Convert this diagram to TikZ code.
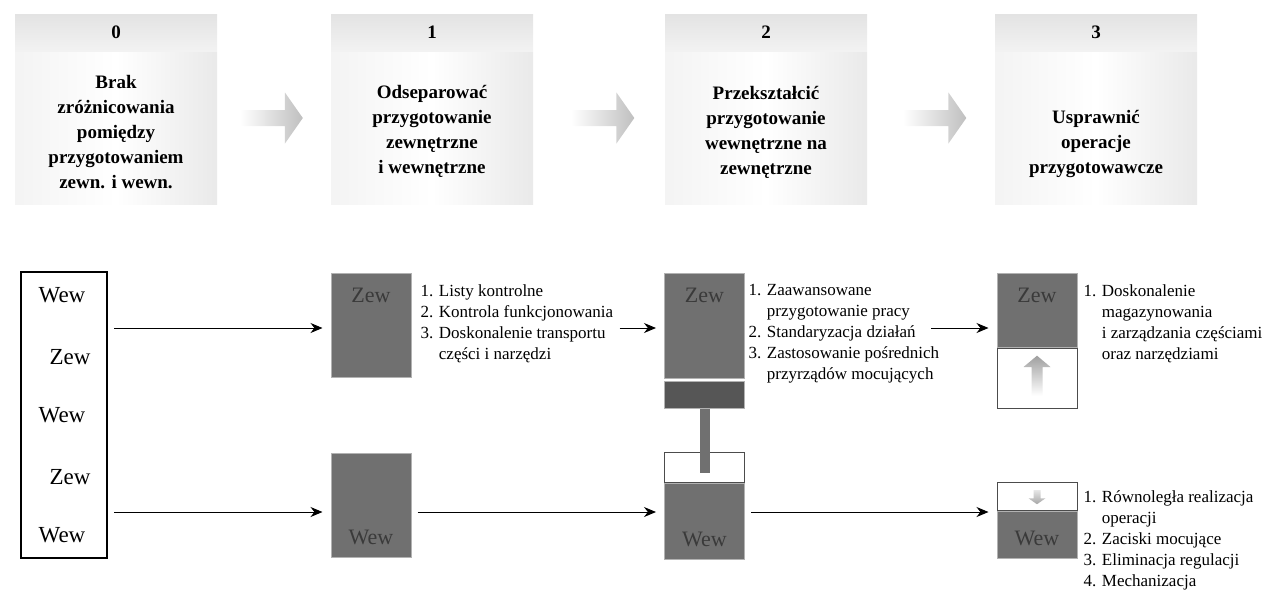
\documentclass[tikz,border=0pt]{standalone}
\usepackage{fontspec}
\setmainfont{Liberation Serif}
\usepackage {tikz}
\usetikzlibrary{shapes,arrows.meta, positioning}

\definecolor{boxgray}{RGB}{112,112,112}
\definecolor{bandgray}{RGB}{86,86,86}
\definecolor{lblgray}{RGB}{58,58,58}

\begin{document}
\begin{tikzpicture}[x=0.5pt, y=-0.5pt, >={Stealth[length=6pt,width=5pt]},
line width = 0.5 pt,
stagebody/.style={minimum width=101pt, minimum height=76pt, inner sep=0pt,
  left color=gray!9, right color=gray!17, middle color=white},
stagehead/.style={minimum width=101pt, minimum height=18.5pt, inner sep=0pt,
  top color=gray!22, bottom color=gray!10, font=\bfseries\fontsize{9.5}{12}\selectfont},
stagetext/.style={align=center, font=\bfseries\fontsize{9.5}{12.5}\selectfont},
stagearrow/.style={single arrow, minimum height=31.5pt, inner sep=3.75pt,
  single arrow head extend=8.75pt, single arrow tip angle=110,
  left color=white, right color=gray!50},
lbl/.style={font=\fontsize{11.5}{14}\selectfont},
list/.style={anchor=north west, align=left, inner sep=0pt,
  font=\fontsize{8.5}{10.5}\selectfont},
darkbox/.style={fill=boxgray, draw=gray!60, minimum width=40pt, inner sep=0pt},
darklbl/.style={text=lblgray, font=\fontsize{11}{13}\selectfont},
zewbox/.style={darkbox, label={[darklbl, anchor=north, yshift=-4pt]north:Zew}},
wewbox/.style={darkbox, label={[darklbl, anchor=south, yshift=3pt]south:Wew}},
whitebox/.style={fill=white, draw=black!70, minimum width=40pt, inner sep=0pt},
upshade/.style={single arrow, shape border rotate=90, minimum height=20pt,
  inner sep=2.5pt, single arrow head extend=4pt, single arrow tip angle=100,
  top color=gray!75, bottom color=white},
downshade/.style={single arrow, shape border rotate=270, minimum height=7pt,
  inner sep=1.5pt, single arrow head extend=2.5pt, single arrow tip angle=110,
  top color=gray!20, bottom color=gray!70},
stem/.style={draw=boxgray, line width=5pt},
conn/.style={->, shorten >=4pt, shorten <=3pt}]

\useasboundingbox (0,0) rectangle (1269,590);

% stages
\node [stagebody] (b0) at (116,128) {};
\node [stagehead] (h0) [above=0pt of b0] {0};
\node [stagetext] (t0) at (116,132) {Brak\\zróżnicowania\\pomiędzy\\przygotowaniem\\zewn. i wewn.};
\node [stagebody] (b1) at (432,128) {};
\node [stagehead] (h1) [above=0pt of b1] {1};
\node [stagetext] (t1) at (432,131.5) {Odseparować\\przygotowanie\\zewnętrzne\\i wewnętrzne};
\node [stagebody] (b2) at (766,128) {};
\node [stagehead] (h2) [above=0pt of b2] {2};
\node [stagetext] (t2) at (766,132) {Przekształcić\\przygotowanie\\wewnętrzne na\\zewnętrzne};
\node [stagebody] (b3) at (1096,128) {};
\node [stagehead] (h3) [above=0pt of b3] {3};
\node [stagetext] (t3) at (1096,144) {Usprawnić\\operacje\\przygotowawcze};

\node [stagearrow] (a01) at (268.5,118) {};
\node [stagearrow] (a12) at (600,118) {};
\node [stagearrow] (a23) at (932,118) {};

% step 0
\node [draw, line width=1pt, minimum width=43pt, minimum height=143pt] (l0) at (64,415) {};
\node [lbl] (lw1) at (62,295) {Wew};
\node [lbl] (lz1) at (70,357) {Zew};
\node [lbl] (lw2) at (62,415) {Wew};
\node [lbl] (lz2) at (70,477) {Zew};
\node [lbl] (lw3) at (62,535) {Wew};

% step 1
\node [zewbox, minimum height=52pt] (z1) at (371,325) {};
\node [wewbox, minimum height=52pt] (w1) at (371,505) {};
\node [list] (n1) at (420,284) {1. Listy kontrolne\\2. Kontrola funkcjonowania\\3. Doskonalenie transportu\\\phantom{3. }części i narzędzi};

% step 2
\node [zewbox, minimum height=52.5pt] (z2) at (704.5,325.5) {};
\node [darkbox, fill=bandgray, minimum height=13.5pt] (d2) [below=1pt of z2] {};
\node [whitebox, minimum height=15pt] (g2) at (704.5,467) {};
\node [wewbox, minimum height=38pt] (w2) [below=0pt of g2] {};
\draw [stem] (d2.south) -- ([yshift=-10.5pt]g2.north);
\node [list] (n2) at (748,284) {1. Zaawansowane\\\phantom{1. }przygotowanie pracy\\2. Standaryzacja działań\\3. Zastosowanie pośrednich\\\phantom{3. }przyrządów mocujących};

% step 3
\node [zewbox, minimum height=37pt] (z3) at (1037,310) {};
\node [whitebox, minimum height=30pt] (g3) [below=0pt of z3] {};
\node [upshade] (u3) at (g3.center) {};
\node [whitebox, minimum height=14pt] (g4) at (1037,496) {};
\node [downshade] (v4) at (g4.center) {};
\node [wewbox, minimum height=23.5pt] (w3) [below=0pt of g4] {};
\node [list] (n3) at (1083,284) {1. Doskonalenie\\\phantom{1. }magazynowania\\\phantom{1. }i zarządzania częściami\\\phantom{1. }oraz narzędziami};
\node [list] (n4) at (1083,490) {1. Równoległa realizacja\\\phantom{1. }operacji\\2. Zaciski mocujące\\3. Eliminacja regulacji\\4. Mechanizacja};

% connectors
\coordinate (r1) at (0,328);
\coordinate (r2) at (0,512);
\coordinate (e2) at (925,328);
\path (l0.east |- r1) edge [conn] (z1.west |- r1);
\path (l0.east |- r2) edge [conn] (w1.west |- r2);
\path (n1.east |- r1) edge [conn] (z2.west |- r1);
\path (w1.east |- r2) edge [conn] (w2.west |- r2);
\path (e2) edge [conn] (z3.west |- r1);
\path (w2.east |- r2) edge [conn] (w3.west |- r2);

\end{tikzpicture}
\end{document}
